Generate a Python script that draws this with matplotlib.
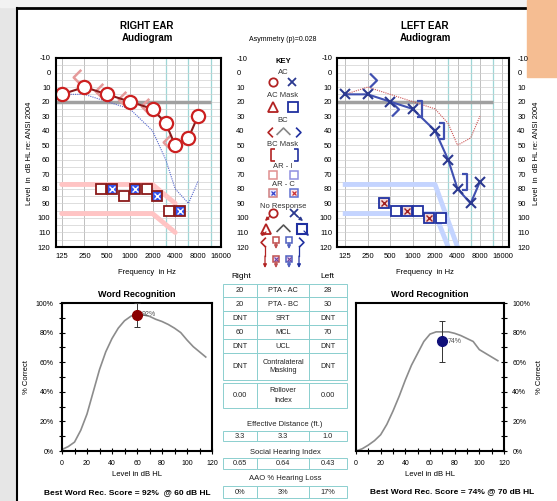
import numpy as np
import matplotlib
matplotlib.use("Agg")
import matplotlib.pyplot as plt
from matplotlib.path import Path
from matplotlib.patches import Rectangle
from matplotlib.ticker import NullLocator, MultipleLocator, PercentFormatter

plt.rcParams['font.family'] = ['Liberation Sans', 'DejaVu Sans']
plt.rcParams['axes.unicode_minus'] = False

# ---- audiogram data (dB HL) ----
freqs = [125, 250, 500, 1000, 2000, 3000, 4000, 6000, 8000]
right_ac = [15, 10, 15, 20, 25, 35, 50, 45, 30]
left_ac = [15, 15, 20, 25, 40, 60, 80, 90, 75]

right_bc_freqs = [250, 500, 1000, 2000, 4000]
right_bc = [5, 15, 20, 25, 50]
left_bc_freqs = [250, 500]
left_bc = [5, 25]
left_bcm_freqs = [1000, 2000, 4000]
left_bcm = [25, 40, 75]

# acoustic reflex
right_ar_freqs = [500, 1000, 2000, 4000]
right_ar_ipsi = [80, 85, 80, 95]
right_ar_contra = [80, 80, 85, 95]
left_ar_freqs = [500, 1000, 2000]
left_ar_ipsi = [95, 95, 100]
left_ar_contra = [90, 95, 100]

# reflex expected range bands
right_band_freqs = [125, 2000, 4000]
right_band_upper = [77, 77, 90]
right_band_lower = [97, 97, 110]
left_band_upper_freqs = [125, 2000, 4000]
left_band_upper = [77, 77, 120]
left_band_lower_freqs = [125, 2000, 3000]
left_band_lower = [97, 97, 120]

normal_limit = 20
octave_ticks = [125, 250, 500, 1000, 2000, 4000, 8000, 16000]
mid_octaves = [3000, 6000, 12000]

# ---- word recognition ----
wr_levels = [0, 5, 10, 15, 20, 25, 30, 35, 40, 45, 50, 55, 60, 65, 70, 75, 80, 85, 90, 95, 100, 105, 110, 115]
right_wr_curve = [1, 3, 6, 14, 25, 40, 55, 67, 76, 83, 88, 91, 93, 92, 91, 89, 87.5, 85.5, 83, 80, 75, 70.5, 67, 63.5]
left_wr_curve = [0, 1.5, 4, 7, 11, 18, 27, 37, 48, 58, 66, 74, 79, 80.5, 80.5, 80.5, 79.5, 78, 76, 74, 68.5, 66, 63.5, 61]
right_wr_level, right_wr_score, right_wr_range = 60, 92, (84, 100)
left_wr_level, left_wr_score, left_wr_range = 70, 74, (60, 88)

# ---- table ----
table_rows = [("20", "PTA - AC", "28"),
              ("20", "PTA - BC", "30"),
              ("DNT", "SRT", "DNT"),
              ("60", "MCL", "70"),
              ("DNT", "UCL", "DNT"),
              ("DNT", "Contralateral\nMasking", "DNT")]
rollover_row = ("0.00", "Rollover\nIndex", "0.00")
eff_dist = ("3.3", "3.3", "1.0")
social_idx = ("0.65", "0.64", "0.43")
aao_loss = ("0%", "3%", "17%")

RED = '#cc2020'
RED_DK = '#8b1a1a'
BLUE = '#2b3990'
BLUE_LN = '#4050b0'
TEAL = '#8ccfcf'

W, H = 557, 501
fig = plt.figure(figsize=(W / 100, H / 100), dpi=100)


def px_axes(x0, y0, x1, y1):
    return fig.add_axes([x0 / W, 1 - y1 / H, (x1 - x0) / W, (y1 - y0) / H])


bg = fig.add_axes([0, 0, 1, 1])
bg.set_xlim(0, W)
bg.set_ylim(H, 0)
bg.axis('off')

# page surroundings
bg.add_patch(Rectangle((0, 0), 16, H, color='#e6e6e6', zorder=0))
bg.add_patch(Rectangle((0, 0), W, 7, color='#f2f2f2', zorder=0))
bg.add_patch(Rectangle((527, 0), 30, 77, color='#f5bd92', zorder=3))
bg.plot([17, 527], [8, 8], color='black', lw=2)
bg.plot([17, 17], [8, H], color='black', lw=1.5)

# marker shapes
LT = Path([(0.5, 1), (-0.5, 0), (0.5, -1)], [Path.MOVETO, Path.LINETO, Path.LINETO])
GT = Path([(-0.5, 1), (0.5, 0), (-0.5, -1)], [Path.MOVETO, Path.LINETO, Path.LINETO])
RBR = Path([(-0.3, 1), (0.3, 1), (0.3, -1), (-0.3, -1)], [Path.MOVETO, Path.LINETO, Path.LINETO, Path.LINETO])
LBR = Path([(0.3, 1), (-0.3, 1), (-0.3, -1), (0.3, -1)], [Path.MOVETO, Path.LINETO, Path.LINETO, Path.LINETO])
CARET = Path([(-1, -0.5), (0, 0.5), (1, -0.5)], [Path.MOVETO, Path.LINETO, Path.LINETO])


def audiogram(ax, xlim, left_pad, right_pad):
    ax.set_xscale('log')
    ax.set_xlim(*xlim)
    ax.set_ylim(120, -10)
    for f in octave_ticks:
        ax.axvline(f, color='#b5b5b5', lw=0.6, zorder=0)
    for f in mid_octaves:
        ax.axvline(f, color='#9fd6d6', lw=0.9, zorder=0)
    for db in range(-5, 120, 5):
        ax.axhline(db, color='#d0d0d0', lw=0.5, zorder=0)
    ax.hlines(normal_limit, xlim[0], 12000, color='#a0a0a0', lw=2.5, zorder=1)
    ax.set_xticks(octave_ticks)
    ax.set_xticklabels([str(f) for f in octave_ticks])
    ax.xaxis.set_minor_locator(NullLocator())
    ax.set_yticks(range(-10, 121, 10))
    ax.tick_params(length=0, labelsize=5.5)
    ax.tick_params(axis='x', pad=4)
    ax.tick_params(axis='y', pad=left_pad)
    sec = ax.secondary_yaxis('right')
    sec.set_yticks(range(-10, 121, 10))
    sec.tick_params(length=0, labelsize=5.5, pad=right_pad)
    sec.spines['right'].set_visible(False)
    for s in ax.spines.values():
        s.set_linewidth(1.5)
        s.set_zorder(5)


# ---- right ear ----
axr = px_axes(56, 58, 221, 247)
audiogram(axr, (105, 16200), 4, 11)
axr.plot(right_band_freqs, right_band_upper, color='#ffc4c4', lw=3.5, zorder=1, solid_capstyle='round')
axr.plot(right_band_freqs, right_band_lower, color='#ffc4c4', lw=3.5, zorder=1, solid_capstyle='round')
axr.plot(freqs, left_ac, color='#5566cc', lw=0.8, ls=(0, (1, 1)), zorder=2)
axr.plot(np.array(right_bc_freqs) * 0.79, np.array(right_bc) - 2, ls='none', marker=LT, ms=11,
         mfc='none', mec='#e59a9a', mew=1.8, zorder=3)
axr.plot(freqs, right_ac, color=RED_DK, lw=1.5, zorder=3)
axr.plot(freqs, right_ac, 'o', ms=9.5, mfc='white', mec=RED, mew=1.6, zorder=4)
axr.plot(np.array(right_ar_freqs) / 1.2, right_ar_ipsi, 's', ms=7.5, mfc='white', mec=RED_DK, mew=1.3, zorder=4)
axr.plot(np.array(right_ar_freqs) * 1.16, right_ar_contra, 's', ms=7.5, mfc='#3355ee', mec=RED_DK, mew=1.3, zorder=4)
axr.plot(np.array(right_ar_freqs) * 1.16, right_ar_contra, 'x', ms=4.5, mec='white', mew=1, zorder=5)

# ---- left ear ----
axl = px_axes(337, 58, 509, 247)
audiogram(axl, (97, 19600), 3.5, 6)
axl.plot(left_band_upper_freqs, left_band_upper, color='#c4d4ff', lw=3.5, zorder=1)
axl.plot(left_band_lower_freqs, left_band_lower, color='#c4d4ff', lw=3.5, zorder=1)
axl.plot(freqs, right_ac, color='#cc5555', lw=0.8, ls=(0, (1, 1)), zorder=2)
axl.plot(np.array(left_bc_freqs) * 1.18, left_bc, ls='none', marker=GT, ms=10,
         mfc='none', mec=BLUE_LN, mew=1.6, zorder=3)
axl.plot(np.array(left_bcm_freqs) * 1.22, left_bcm, ls='none', marker=RBR, ms=12,
         mfc='none', mec=BLUE_LN, mew=1.6, zorder=3)
axl.plot(freqs, left_ac, color=BLUE_LN, lw=1.5, zorder=3)
axl.plot(freqs, left_ac, 'x', ms=7.5, mec=BLUE, mew=1.5, zorder=4)
axl.plot(np.array(left_ar_freqs) * 1.2, left_ar_ipsi, 's', ms=7.5, mfc='white', mec='#2030a0', mew=1.3, zorder=4)
axl.plot(np.array(left_ar_freqs) / 1.2, left_ar_contra, 's', ms=7.5, mfc='#f3d6d6', mec='#2030a0', mew=1.3, zorder=4)
axl.plot(np.array(left_ar_freqs) / 1.2, left_ar_contra, 'x', ms=4.5, mec='#a02020', mew=1, zorder=5)

# titles / axis labels
for cx, name in [(147, 'RIGHT EAR'), (425, 'LEFT EAR')]:
    bg.text(cx, 26, name, ha='center', va='center', fontsize=7, fontweight='bold')
    bg.text(cx, 38, 'Audiogram', ha='center', va='center', fontsize=7, fontweight='bold')
    bg.text(cx, 272, 'Frequency  in Hz', ha='center', va='center', fontsize=5.5)
for cx in [30, 537]:
    bg.text(cx, 153, 'Level  in  dB HL re: ANSI 2004', rotation=90, ha='center', va='center', fontsize=5.5)

# ---- key ----
kx = 283
bg.text(kx, 39, 'Asymmetry (p)=0.028', ha='center', va='center', fontsize=5)
bg.text(kx, 61, 'KEY', ha='center', va='center', fontsize=5.5, fontweight='bold')
for y, t in [(72, 'AC'), (95, 'AC Mask'), (120, 'BC'), (145, 'BC Mask'),
             (167, 'AR - I'), (184, 'AR - C'), (206, 'No Response')]:
    bg.text(kx, y, t, ha='center', va='center', fontsize=5.5, color='#333333')
bg.plot(273, 82, 'o', ms=6, mfc='white', mec='#b22222', mew=1.3)
bg.plot(292, 82, 'x', ms=6, mec=BLUE, mew=1.3)
bg.plot(273, 107, '^', ms=7, mfc='white', mec='#b22222', mew=1.3)
bg.plot(293, 107, 's', ms=6.5, mfc='white', mec='#2030a0', mew=1.3)
bg.plot(270, 132, marker=LT, ms=7, mfc='none', mec='#b22222', mew=1.2)
bg.plot(283, 131, marker=CARET, ms=10, mfc='none', mec='#888888', mew=1.2)
bg.plot(298, 132, marker=GT, ms=7, mfc='none', mec='#2030a0', mew=1.2)
bg.plot(273, 155, marker=LBR, ms=8, mfc='none', mec='#b22222', mew=1.2)
bg.plot(296, 155, marker=RBR, ms=8, mfc='none', mec='#2030a0', mew=1.2)
bg.plot(273, 175, 's', ms=5.5, mfc='white', mec='#e09090', mew=1.1)
bg.plot(294, 175, 's', ms=5.5, mfc='white', mec='#9090e0', mew=1.1)
bg.plot(273, 193, 's', ms=5.5, mfc='#e8e8ff', mec='#d08080', mew=1.1)
bg.plot(273, 193, 'x', ms=3.5, mec='#3344cc', mew=0.9)
bg.plot(294, 193, 's', ms=5.5, mfc='#ffe8e8', mec='#6070d0', mew=1.1)
bg.plot(294, 193, 'x', ms=3.5, mec='#cc3333', mew=0.9)


def arrow(x0, y0, x1, y1, c):
    bg.annotate('', xy=(x1, y1), xytext=(x0, y0),
                arrowprops=dict(arrowstyle='-|>', color=c, lw=0.9, mutation_scale=5, shrinkA=0, shrinkB=0))


# no response symbols
bg.plot(273, 213, 'o', ms=6, mfc='white', mec='#b22222', mew=1.3)
arrow(270, 216, 265, 221, '#b22222')
bg.plot(294, 213, 'x', ms=6, mec=BLUE, mew=1.3)
arrow(297, 216, 303, 221, BLUE)
bg.plot(266, 229, '^', ms=7, mfc='white', mec='#b22222', mew=1.3)
arrow(266, 232, 261, 236, '#b22222')
bg.plot(283, 228, marker=CARET, ms=10, mfc='none', mec='#555555', mew=1.2)
bg.plot(302, 229, 's', ms=6.5, mfc='white', mec='#2030a0', mew=1.5)
arrow(304, 231, 309, 236, '#2030a0')
bg.plot(263, 242, marker=LT, ms=7, mfc='none', mec='#b22222', mew=1.2)
bg.plot([265, 265], [246, 256], color='#b22222', lw=0.9)
arrow(265, 256, 265, 268, '#b22222')
bg.plot(301, 242, marker=GT, ms=7, mfc='none', mec='#2030a0', mew=1.2)
bg.plot([299, 299], [246, 256], color='#2030a0', lw=0.9)
arrow(299, 256, 299, 268, '#2030a0')
for x, ec in [(276, '#c05050'), (289, '#5060c0')]:
    bg.plot(x, 240, 's', ms=5, mfc='white', mec=ec, mew=1.1)
    arrow(x, 243, x, 249, ec)
    bg.plot(x, 259, 's', ms=5, mfc='#e8d8f0', mec=ec, mew=1.1)
    bg.plot(x, 259, 'x', ms=3.3, mec='#7040a0', mew=0.8)
    arrow(x, 262, x, 268, ec)

# ---- table ----
col_edges = [223, 257, 309, 347]
bg.text(241, 277, 'Right', ha='center', va='center', fontsize=6)
bg.text(327, 277, 'Left', ha='center', va='center', fontsize=6)


def cell_row(y0, y1, texts):
    for i in range(3):
        bg.add_patch(Rectangle((col_edges[i], y0), col_edges[i + 1] - col_edges[i], y1 - y0,
                               fill=False, ec=TEAL, lw=0.7))
        bg.text((col_edges[i] + col_edges[i + 1]) / 2, (y0 + y1) / 2, texts[i],
                ha='center', va='center', fontsize=5.3, color='#222222', linespacing=1.4)


row_edges = [284, 297, 311, 325, 339, 353, 380]
for k, row in enumerate(table_rows):
    cell_row(row_edges[k], row_edges[k + 1], row)
cell_row(383, 408, rollover_row)
for ly, y0, y1, lab, vals in [(424, 431, 441, 'Effective Distance (ft.)', eff_dist),
                              (452, 458, 469, 'Social Hearing Index', social_idx),
                              (479, 486, 498, 'AAO % Hearing Loss', aao_loss)]:
    bg.text(285, ly, lab, ha='center', va='center', fontsize=5.5, color='#222222')
    cell_row(y0, y1, vals)


# ---- word recognition ----
def word_rec(ax, curve, level, score, rng, color, side):
    ax.plot(wr_levels, curve, color='#8c8c8c', lw=1.2, zorder=2)
    ax.errorbar(level, score, yerr=[[score - rng[0]], [rng[1] - score]], fmt='none',
                ecolor='#333333', elinewidth=0.7, capsize=2.5, capthick=0.7, zorder=3)
    ax.plot(level, score, 'o', ms=7, color=color, zorder=4)
    ax.text(level + 4, score, f'{score}%', fontsize=5, color='#555555', va='center')
    ax.set_xlim(0, 120)
    ax.set_ylim(0, 100)
    ax.xaxis.set_major_locator(MultipleLocator(20))
    ax.xaxis.set_minor_locator(MultipleLocator(10))
    ax.yaxis.set_major_locator(MultipleLocator(20))
    ax.yaxis.set_minor_locator(MultipleLocator(10))
    ax.yaxis.set_major_formatter(PercentFormatter(decimals=0))
    ax.tick_params(which='both', direction='inout', length=5, width=0.8, labelsize=5)
    ax.tick_params(axis='x', pad=4)
    if side == 'right':
        ax.yaxis.tick_right()
        ax.yaxis.set_label_position('right')
    ax.set_xlabel('Level in dB HL', fontsize=5.5, labelpad=3)
    ax.set_ylabel('% Correct', fontsize=5.5, labelpad=4)
    ax.set_title('Word Recognition', fontsize=6.5, fontweight='bold', pad=4)
    for s in ax.spines.values():
        s.set_linewidth(1.5)


axwr = px_axes(62, 303, 212, 451)
word_rec(axwr, right_wr_curve, right_wr_level, right_wr_score, right_wr_range, '#8b0000', 'left')
axwl = px_axes(356, 303, 504, 451)
word_rec(axwl, left_wr_curve, left_wr_level, left_wr_score, left_wr_range, '#10107a', 'right')

bg.text(127, 493, f'Best Word Rec. Score = {right_wr_score}%  @ {right_wr_level} dB HL',
        ha='center', va='center', fontsize=6, fontweight='bold')
bg.text(452, 492, f'Best Word Rec. Score = {left_wr_score}% @ {left_wr_level} dB HL',
        ha='center', va='center', fontsize=6, fontweight='bold')

fig.savefig('out.png', dpi=100)
